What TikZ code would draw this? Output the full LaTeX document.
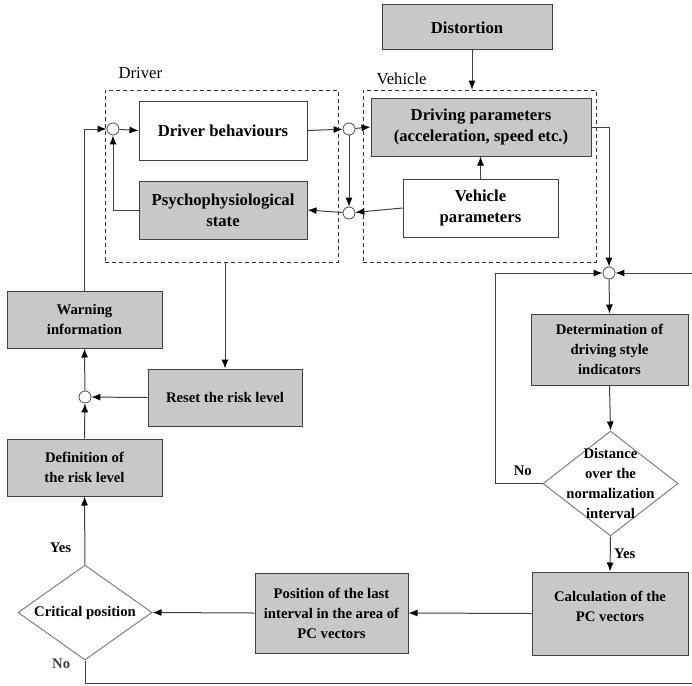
\documentclass[tikz,border=0pt]{standalone}
\usepackage{fontspec}
\setmainfont{Liberation Serif}
\usepackage{tikz}
\usetikzlibrary{shapes,arrows.meta,positioning,calc}
\definecolor{boxgray}{RGB}{200,200,200}
\definecolor{edgegray}{RGB}{64,64,64}
\newcommand{\bigsize}{\fontsize{16.7}{21}\selectfont}
\newcommand{\smallsize}{\fontsize{14.7}{20}\selectfont}
\tikzset{
    block/.style={rectangle, draw=edgegray, fill=boxgray, align=center, font=\bigsize\bfseries, inner sep=0pt, line width=1pt},
    wblock/.style={block, fill=white},
    sblock/.style={block, font=\smallsize\bfseries},
    decision/.style={diamond, draw=black!50, fill=white, inner sep=0pt, line width=1pt},
    group/.style={rectangle, draw=black!80, dash pattern=on 4pt off 3pt, line width=0.8pt},
    junction/.style={circle, draw=black!70, fill=white, minimum size=12pt, inner sep=0pt, line width=0.8pt},
    line/.style={draw=edgegray, line width=1pt, -{Latex[length=9pt, width=7pt, color=black]}},
    tag/.style={font=\smallsize\bfseries}
}

\begin{document}
\begin{tikzpicture}[x=1pt, y=-1pt]
    \useasboundingbox (0,0) rectangle (692,685);

    % Groups
    \node [group, minimum width=233pt, minimum height=172pt] (drvgrp) at (221.5,176) {};
    \node [group, minimum width=233pt, minimum height=172pt] (vehgrp) at (479.5,176) {};
    \node [font=\bigsize, anchor=base west] (drvlbl) at (115,78) {Driver};
    \node [font=\bigsize, anchor=base west] (vehlbl) at (373,84) {Vehicle};

    % Upper blocks
    \node [block, minimum width=170pt, minimum height=45pt] (dist) at (467,27.5) {Distortion};
    \node [wblock, minimum width=168pt, minimum height=59pt] (drvbeh) at (223,130.5) {Driver behaviours};
    \node [block, minimum width=168pt, minimum height=58pt] (psych) at (223,210) {Psychophysiological\\state};
    \node [block, minimum width=220pt, minimum height=58pt] (drvpar) at (481,127) {Driving parameters\\(acceleration, speed etc.)};
    \node [wblock, minimum width=155pt, minimum height=58pt] (vehpar) at (480.5,208) {Vehicle\\parameters};

    % Junctions
    \node [junction] (c1) at (113,129) {};
    \node [junction] (c2) at (349,129) {};
    \node [junction] (c3) at (349,213) {};
    \node [junction] (c4) at (609,273) {};
    \node [junction] (c5) at (85,397) {};

    % Left column
    \node [sblock, minimum width=155pt, minimum height=57pt] (warn) at (84.5,319.5) {Warning\\information};
    \node [sblock, minimum width=154pt, minimum height=57pt] (reset) at (225,397.5) {Reset the risk level};
    \node [sblock, minimum width=155pt, minimum height=57pt] (defin) at (84.5,467.5) {Definition of\\the risk level};
    \node [decision, minimum width=134pt, minimum height=95pt,
           label={[tag]center:Critical position}] (crit) at (85,612.5) {};

    % Right column and bottom row
    \node [sblock, minimum width=157pt, minimum height=71pt] (determ) at (609.5,349.5) {Determination of\\driving style\\indicators};
    \node [decision, minimum width=135pt, minimum height=105pt,
           label={[tag, align=center]center:Distance\\over the\\normalization\\interval}] (distd) at (610.5,483.5) {};
    \node [sblock, minimum width=156pt, minimum height=83pt,
           label={[tag, align=center, yshift=7pt]center:Calculation of the\\PC vectors}] (calc) at (610,613.5) {};
    \node [sblock, minimum width=153pt, minimum height=80pt] (pos) at (331.5,613) {Position of the last\\interval in the area of\\PC vectors};

    \coordinate (rightin) at (692,273);
    \coordinate (nobend) at (495,273);
    \coordinate (bottomout) at (692,683);

    % Connectors
    \path [line] ([xshift=5pt]dist.south) -- ([xshift=5pt]dist.south |- vehgrp.north);
    \path [line] (c1) -- (drvbeh.west);
    \path [line] (drvbeh.east) -- (c2);
    \path [line] (c2) -- (drvpar.west);
    \path [line] (c2) -- (c3);
    \path [line] (vehpar.west) -- (c3);
    \path [line] (c3) -- (psych.east);
    \path [line] (psych.west) -| (c1);
    \path [line] (vehpar.north) -- (vehpar.north |- drvpar.south);
    \path [line] (drvpar.east) -| (c4);
    \path [line] (rightin) -- (c4);
    \path [line] (distd.west) -- node [tag, above, xshift=4pt, yshift=4pt] {No} (nobend |- distd.west) -- (nobend) -- (c4);
    \path [line] (c4) -- (determ.north);
    \path [line] (determ.south) -- (distd.north);
    \path [line] (distd.south) -- node [tag, right] {Yes} (calc.north);
    \path [line] (calc.west) -- (pos.east);
    \path [line] (pos.west) -- (crit.east);
    \path [line] (crit.north) -- node [tag, left, pos=0.25, xshift=-10pt] {Yes} (defin.south);
    \draw [edgegray, line width=1pt] (crit.south) -- node [tag, left, pos=0.15, xshift=-11pt] {No} (crit.south |- bottomout) -- (bottomout);
    \path [line] (defin.north) -- (c5);
    \path [line] (reset.west) -- (c5);
    \path [line] (c5) -- (warn.south);
    \path [line] (warn.north) |- (c1);
    \path [line] (reset.north |- drvgrp.south) -- (reset.north);
\end{tikzpicture}
\end{document}
